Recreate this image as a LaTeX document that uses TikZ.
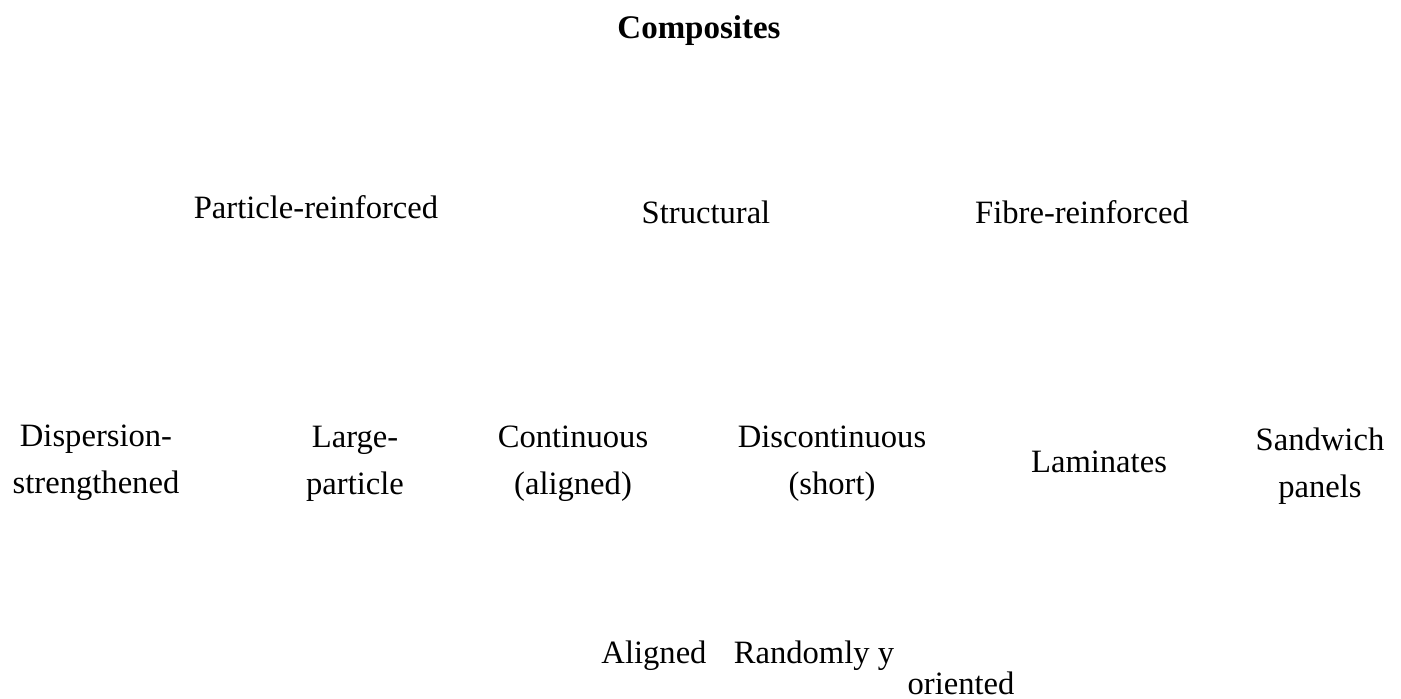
\documentclass[tikz,border=0pt]{standalone}
\usepackage{fontspec}
\setmainfont{Liberation Serif}
\newcommand{\twoline}[2]{\begin{tabular}[t]{@{}c@{}}#1\\#2\end{tabular}}
\begin{document}
\begin{tikzpicture}[x=1pt,y=-1pt,
  lbl/.style={inner sep=0pt, anchor=base, font=\fontsize{32.6}{47.5}\selectfont},
  ttl/.style={lbl, font=\fontsize{33}{47}\selectfont\bfseries}]
\useasboundingbox[fill=white] (0,0) rectangle (1401,699);
\node[ttl] (comp) at (699,38) {Composites};
\node[lbl] (part) at (316,218) {Particle-reinforced};
\node[lbl] (struct) at (706,223) {Structural};
\node[lbl] (fibre) at (1082,223) {Fibre-reinforced};
\node[lbl] (disp) at (96,446) {\twoline{Dispersion-}{strengthened}};
\node[lbl] (large) at (355,447) {\twoline{Large-}{particle}};
\node[lbl] (cont) at (573,447) {\twoline{Continuous}{(aligned)}};
\node[lbl] (disc) at (832,447) {\twoline{Discontinuous}{(short)}};
\node[lbl] (lam) at (1099,472) {Laminates};
\node[lbl] (sand) at (1320,450) {\twoline{Sandwich}{panels}};
\node[lbl] (align) at (654,663) {Aligned};
\node[lbl] (rand) at (814,663) {Randomly y};
\node[lbl, text depth=0pt] (orient) at (961,694) {oriented};
\end{tikzpicture}
\end{document}
